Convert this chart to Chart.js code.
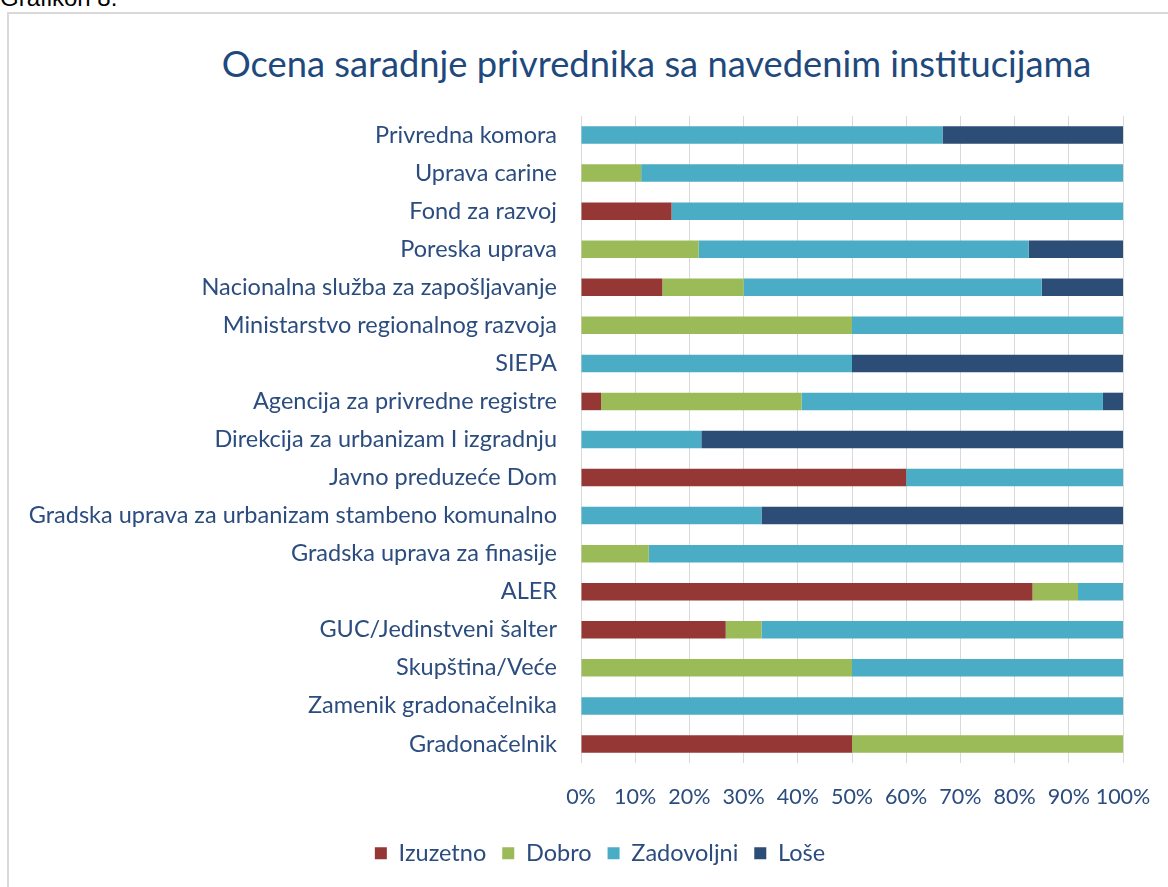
<!DOCTYPE html>
<html>
<head>
<meta charset="utf-8">
<script src="https://cdn.jsdelivr.net/npm/chart.js@4.4.1/dist/chart.umd.min.js"></script>
<style>
  html, body { margin: 0; padding: 0; background: #ffffff; overflow: hidden; width: 1168px; height: 887px; }
  #caption { position: absolute; left: 0; top: -14px; font-family: Arial, "Liberation Sans", sans-serif; font-size: 24px; line-height: 24px; color: #000; }
  #frame { position: absolute; left: 7px; top: 12px; width: 1400px; height: 1000px; border: 2px solid #d9d9d9; box-sizing: border-box; }
  #title { position: absolute; left: 0; top: 41px; width: 1313px; text-align: center; font-family: Lato, "Open Sans", sans-serif; font-size: 36.3px; line-height: 44px; color: #1f497d; white-space: nowrap; }
  #wrap { position: absolute; left: 0; top: 0; width: 1200px; height: 887px; }
</style>
</head>
<body>
<div id="caption">Grafikon 8.</div>
<div id="frame"></div>
<div id="title">Ocena saradnje privrednika sa navedenim institucijama</div>
<div id="wrap"><canvas id="c"></canvas></div>
<script>
const categories = [
  'Privredna komora',
  'Uprava carine',
  'Fond za razvoj',
  'Poreska uprava',
  'Nacionalna služba za zapošljavanje',
  'Ministarstvo regionalnog razvoja',
  'SIEPA',
  'Agencija za privredne registre',
  'Direkcija za urbanizam I izgradnju',
  'Javno preduzeće Dom',
  'Gradska uprava za urbanizam stambeno komunalno',
  'Gradska uprava za finasije',
  'ALER',
  'GUC/Jedinstveni šalter',
  'Skupština/Veće',
  'Zamenik gradonačelnika',
  'Gradonačelnik'
];
const seriesNames = ['Izuzetno', 'Dobro', 'Zadovoljni', 'Loše'];
const izuzetno   = [0, 0, 16.7, 0, 15, 0, 0, 3.7, 0, 60, 0, 0, 83.3, 26.7, 0, 0, 50];
const dobro      = [0, 11.1, 0, 21.7, 15, 50, 0, 37.0, 0, 0, 0, 12.5, 8.4, 6.6, 50, 0, 50];
const zadovoljni = [66.7, 88.9, 83.3, 60.9, 55, 50, 50, 55.6, 22.2, 40, 33.3, 87.5, 8.3, 66.7, 50, 100, 0];
const lose       = [33.3, 0, 0, 17.4, 15, 0, 50, 3.7, 77.8, 0, 66.7, 0, 0, 0, 0, 0, 0];
const xTicks = [0, 10, 20, 30, 40, 50, 60, 70, 80, 90, 100];

const colors = ['#953735', '#9bbb59', '#4bacc6', '#2c4d75'];
const textColor = '#2b4c7e';
const fontFamily = 'Lato, "Open Sans", sans-serif';
const fontSize = 23.5;
const tickFontSize = 21.5;

const seriesData = [izuzetno, dobro, zadovoljni, lose];
const datasets = seriesNames.map((name, i) => ({
  label: name,
  data: seriesData[i],
  backgroundColor: colors[i],
  borderWidth: 0,
  barPercentage: 0.46,
  categoryPercentage: 1.0
}));

const legendShift = {
  id: 'legendShift',
  afterLayout(chart) {
    const lg = chart.legend;
    if (lg) { lg.left += 38.5; lg.right += 38.5; }
  }
};

new Chart(document.getElementById('c'), {
  type: 'bar',
  data: { labels: categories, datasets: datasets },
  plugins: [legendShift],
  options: {
    indexAxis: 'y',
    responsive: true,
    maintainAspectRatio: false,
    animation: false,
    layout: { padding: { left: 0, right: 77, top: 116, bottom: 12 } },
    plugins: {
      title: { display: false },
      tooltip: { enabled: false },
      legend: {
        position: 'bottom',
        labels: {
          boxWidth: 12,
          boxHeight: 12,
          padding: 16,
          color: textColor,
          font: { family: fontFamily, size: fontSize }
        }
      }
    },
    scales: {
      x: {
        stacked: true,
        min: 0,
        max: 100,
        afterBuildTicks: (axis) => { axis.ticks = xTicks.map(v => ({ value: v })); },
        afterFit: (axis) => { axis.height = 62.5; },
        grid: { color: '#d9d9d9', lineWidth: 1, drawTicks: false },
        border: { display: false },
        ticks: {
          padding: 21,
          color: textColor,
          font: { family: fontFamily, size: tickFontSize },
          callback: (v) => v + '%',
          maxRotation: 0,
          autoSkip: false
        }
      },
      y: {
        stacked: true,
        afterFit: (axis) => { axis.width = 581; },
        grid: { display: false, drawTicks: false },
        border: { display: false },
        ticks: {
          padding: 24,
          color: textColor,
          font: { family: fontFamily, size: fontSize },
          autoSkip: false
        }
      }
    }
  }
});
</script>
</body>
</html>
